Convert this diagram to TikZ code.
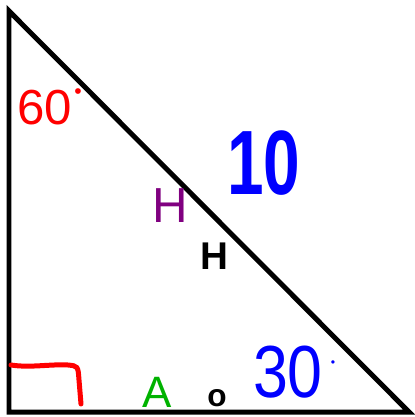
\documentclass[tikz,border=0pt]{standalone}
\usepackage{fontspec}
\setmainfont{Liberation Sans}
\newcommand{\fs}[1]{\fontsize{#1}{#1}\selectfont}
\begin{document}
\begin{tikzpicture}[
x=0.02cm,y=-0.02cm,
side/.style={line width=0.1cm,line join=miter},
every node/.style={inner sep=0pt,anchor=center}
]
\useasboundingbox (0,0) rectangle (414,417);
\coordinate (t) at (9,11);
\coordinate (b) at (9,412);
\coordinate (r) at (409,412);
\draw[side] (t)--(b)--(r)--cycle;
% right angle mark
\coordinate (m1) at (11,365);
\coordinate (m2) at (81,404);
\draw[red,line width=0.1cm,line cap=round] (m1) .. controls (30,368) and (50,364) .. (68,365) .. controls (78,366) .. (79,380) -- (m2);
\node[red] (ang60) at (45,108) {\fs{28}60};
\node[red] (deg60) at (78,94) {\fs{12}\textbullet};
\node[blue,xscale=0.72] (hyp) at (264,163) {\fs{52}\bfseries 10};
\node[violet] (hp) at (170,206) {\fs{28}H};
\node (hb) at (214,256) {\fs{22}\bfseries H};
\node[blue,xscale=0.85] (ang30) at (288,372) {\fs{42}30};
\node[blue] (deg30) at (333,364) {\fs{7}\textbullet};
\node[green!70!black] (adj) at (157,392) {\fs{25}A};
\node (opp) at (217,398) {\fs{18}\bfseries o};
\end{tikzpicture}
\end{document}
